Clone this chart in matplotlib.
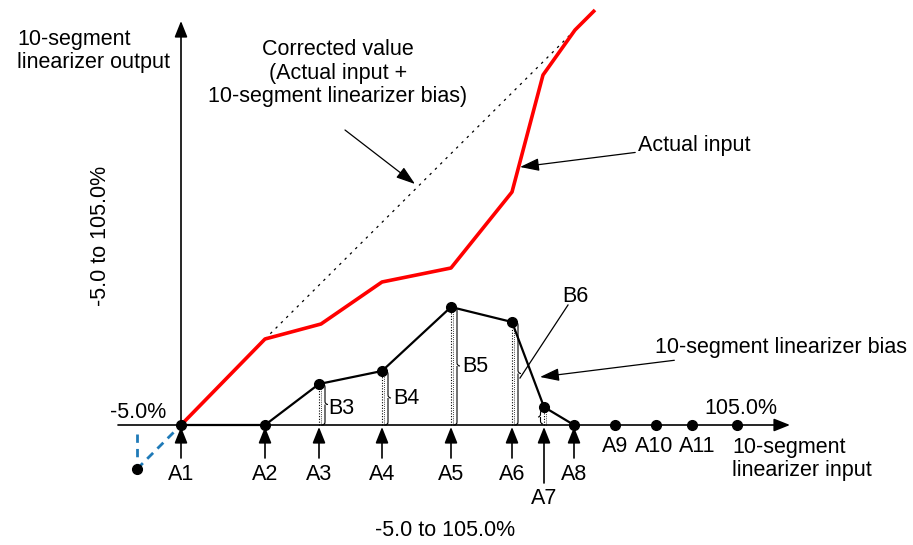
import numpy as np
import matplotlib
matplotlib.use('Agg')
import matplotlib.pyplot as plt
from matplotlib.path import Path
from matplotlib.patches import PathPatch

plt.rcParams.update({'font.family': ['Liberation Sans', 'DejaVu Sans'], 'font.size': 15.5})
RED = '#ff0000'; BLU = '#1f7ab8'

# diagram units: origin at A1 on the input axis, 1 unit ~ 1 px
seg_labels = ['A1', 'A2', 'A3', 'A4', 'A5', 'A6', 'A7', 'A8']
seg_x = [0, 84, 138, 201, 270, 331, 363, 393]
bias = [0, 0, 41, 54, 118, 103, 18, 0]
extra_labels = ['A9', 'A10', 'A11']
extra_x = [434, 475, 511]
end_x = 556                      # 105.0 %
actual_x = [0, 84, 140, 201, 270, 331, 362, 394, 414]
actual_y = [0, 86, 101, 143, 157, 233, 350, 395, 415]
corrected_x = [84, 393]
corrected_y = [86, 394]
low_pt = (-44, -44)              # -5.0 % point
brace_names = ['B3', 'B4', 'B5', 'B6']

fig = plt.figure(figsize=(9.13, 5.45), dpi=100)
ax = fig.add_axes([0, 0, 1, 1])
ax.set_xlim(-181, 732); ax.set_ylim(-120, 425); ax.axis('off')

AX = dict(arrowstyle='-|>,head_length=0.75,head_width=0.3', color='k', lw=1.2,
          mutation_scale=13, shrinkA=0, shrinkB=0)
# axes
ax.annotate('', xy=(609, 0), xytext=(-63, 0), arrowprops=AX, zorder=2)
ax.annotate('', xy=(0, 404), xytext=(0, 0), arrowprops=AX, zorder=2)

# actual input and corrected value
ax.plot(actual_x, actual_y, color=RED, lw=2.6, zorder=4, solid_capstyle='butt')
ax.plot(corrected_x, corrected_y, color='k', lw=0.9, ls=(0, (2, 4)), zorder=3)

# bias polyline
ax.plot(seg_x, bias, color='k', lw=1.6, marker='o', ms=7, zorder=5)
ax.plot(extra_x + [end_x], [0] * 4, ls='none', color='k', marker='o', ms=7, zorder=5)

# -5 % point
ax.plot([low_pt[0], 0], [low_pt[1], 0], color=BLU, lw=2, ls=(0, (3, 2.2)), zorder=4)
ax.plot([low_pt[0], low_pt[0]], [-9, low_pt[1] + 6], color=BLU, lw=2, ls=(0, (3, 2.2)), zorder=4)
ax.plot(*low_pt, 'o', color='k', ms=7, zorder=5)


def brace(x, y0, y1, w, lw=0.8):
    ym = (y0 + y1) / 2; r = min(3, (y1 - y0) / 4); h = x + w / 2
    verts = [(x, y1), (h, y1), (h, y1 - r), (h, ym + r), (h, ym), (x + w, ym),
             (h, ym), (h, ym - r), (h, y0 + r), (h, y0), (x, y0)]
    codes = [Path.MOVETO, Path.CURVE3, Path.CURVE3, Path.LINETO, Path.CURVE3, Path.CURVE3,
             Path.MOVETO, Path.CURVE3, Path.LINETO, Path.CURVE3, Path.CURVE3]
    ax.add_patch(PathPatch(Path(verts, codes), fill=False, lw=lw, color='k', zorder=3))


for i in range(2, 7):
    ax.plot([seg_x[i], seg_x[i]], [0, bias[i]], color='k', lw=0.8, ls=(0, (1, 1.5)), zorder=3)
    ax.plot([seg_x[i] + 2, seg_x[i] + 2], [0, bias[i]], color='k', lw=0.6, ls=(0, (1, 1.5)), zorder=3)
    if i < 6:
        brace(seg_x[i] + 3, 0, bias[i], 6)
    else:
        brace(seg_x[i] - 1, 1, bias[i] - 3, -5)

ax.text(seg_x[2] + 9, bias[2] / 2 - 4, brace_names[0], va='center')
ax.text(seg_x[3] + 11, bias[3] / 2, brace_names[1], va='center')
ax.text(seg_x[4] + 11, bias[4] / 2, brace_names[2], va='center')
ax.text(394, 129, brace_names[3], ha='center', va='center')
ax.plot([387, 339], [120, 47], color='k', lw=0.9)

# A tick arrows and labels
for lab, x in zip(seg_labels, seg_x):
    if lab == 'A7':
        ax.annotate('', xy=(x, -2), xytext=(x, -58), arrowprops=AX)
        ax.text(x, -73, lab, ha='center', va='center')
    else:
        ax.annotate('', xy=(x, -2), xytext=(x, -33), arrowprops=AX)
        ax.text(x, -49, lab, ha='center', va='center')
for lab, x, dx in zip(extra_labels, extra_x, [0, -2, 5]):
    ax.text(x + dx, -21, lab, ha='center', va='center')

# texts
ax.text(-164, 374, '10-segment\nlinearizer output', ha='left', va='center', linespacing=1.15)
ax.text(157, 352, 'Corrected value\n(Actual input +\n10-segment linearizer bias)',
        ha='center', va='center', linespacing=1.15)
ax.text(-81, 189, '-5.0 to 105.0%', rotation=90, ha='center', va='center')
ax.text(-43, 13, '-5.0%', ha='center', va='center')
ax.text(560, 17, '105.0%', ha='center', va='center')
ax.text(551, -34, '10-segment\nlinearizer input', ha='left', va='center', linespacing=1.15)
ax.text(264, -105, '-5.0 to 105.0%', ha='center', va='center')

PT = dict(arrowstyle='-|>,head_length=0.9,head_width=0.3', color='k', lw=0.9,
          mutation_scale=13, shrinkA=0, shrinkB=0)
ax.annotate('Actual input', xy=(339, 258), xytext=(457, 280), arrowprops=PT,
            ha='left', va='center')
ax.annotate('10-segment linearizer bias', xy=(359, 48), xytext=(474, 78), arrowprops=PT,
            ha='left', va='center')
ax.annotate('', xy=(234, 241), xytext=(164, 295), arrowprops=PT)

fig.savefig('out.png', dpi=100)
